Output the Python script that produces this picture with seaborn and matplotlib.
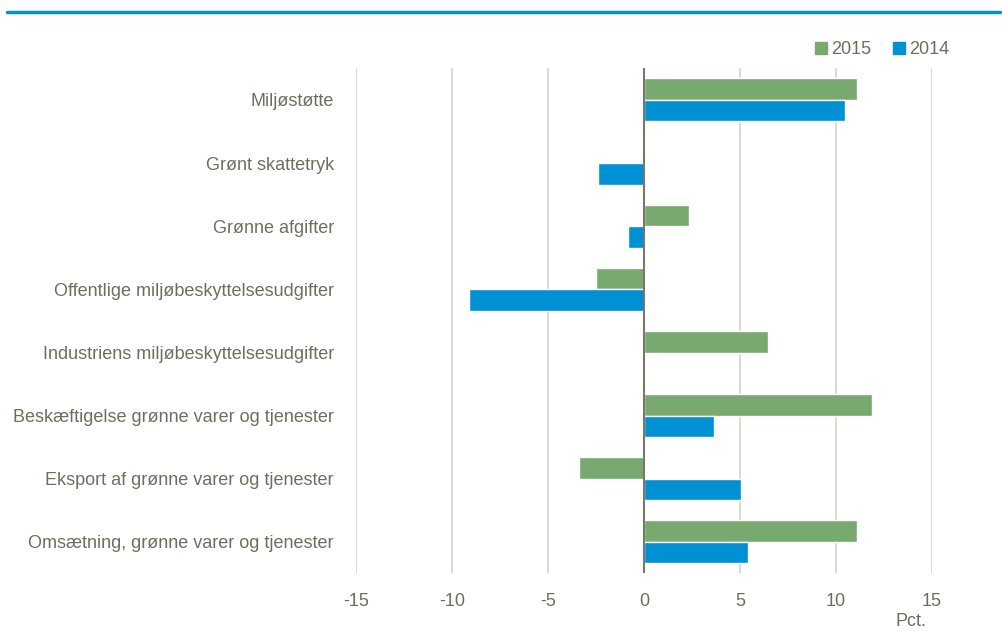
import pandas as pd
import matplotlib.pyplot as plt
import seaborn as sns
from matplotlib.lines import Line2D

categories = ["Miljøstøtte", "Grønt skattetryk", "Grønne afgifter",
              "Offentlige miljøbeskyttelsesudgifter",
              "Industriens miljøbeskyttelsesudgifter",
              "Beskæftigelse grønne varer og tjenester",
              "Eksport af grønne varer og tjenester",
              "Omsætning, grønne varer og tjenester"]
vals_2015 = [11.1, 0.0, 2.35, -2.5, 6.45, 11.9, -3.4, 11.1]
vals_2014 = [10.5, -2.4, -0.85, -9.1, 0.0, 3.65, 5.05, 5.4]
years = ["2015", "2014"]

df = pd.DataFrame({
    "kategori": categories * 2,
    "aar": ["2015"] * len(categories) + ["2014"] * len(categories),
    "pct": vals_2015 + vals_2014,
})

sns.set_style("white")
plt.rcParams['font.family'] = ['Liberation Sans', 'DejaVu Sans']
plt.rcParams['axes.unicode_minus'] = False
txt = "#6e6e60"
colors = {"2015": "#78a96f", "2014": "#0090d4"}

fig = plt.figure(figsize=(10.03, 6.33), dpi=100)
ax = fig.add_axes([0.355, 0.094, 0.574, 0.798])

sns.barplot(data=df, y="kategori", x="pct", hue="aar", hue_order=years,
            palette=colors, orient="h", width=0.68, ax=ax, legend=False,
            saturation=1)

ax.set_xlim(-15, 15)
ax.set_ylim(7.5, -0.5)
ax.set_xticks([-15, -10, -5, 0, 5, 10, 15])
ax.xaxis.grid(True, color="#d4d4cc", linewidth=1.2)
ax.set_axisbelow(True)
ax.axvline(0, color="#77776a", linewidth=1.5)
for s in ax.spines.values():
    s.set_visible(False)
ax.tick_params(axis="both", length=0, labelsize=13, colors=txt)
ax.tick_params(axis="x", pad=14)
ax.tick_params(axis="y", pad=16)
ax.set_xlabel("")
ax.set_ylabel("")

fig.text(0.908, 0.005, "Pct.", color=txt, fontsize=13, ha="center", va="bottom")

handles = [Line2D([], [], marker="s", linestyle="", markersize=8,
                  color=colors[y]) for y in years]
fig.legend(handles, years, loc="center right", bbox_to_anchor=(0.963, 0.922),
           ncol=2, frameon=False, fontsize=13, labelcolor=txt,
           handletextpad=0.1, columnspacing=1.0, handlelength=1.0)

fig.add_artist(Line2D([0.007, 0.997], [0.981, 0.981], color="#0090d4",
                      linewidth=2.5, transform=fig.transFigure))

plt.savefig("out.png", dpi=100)
